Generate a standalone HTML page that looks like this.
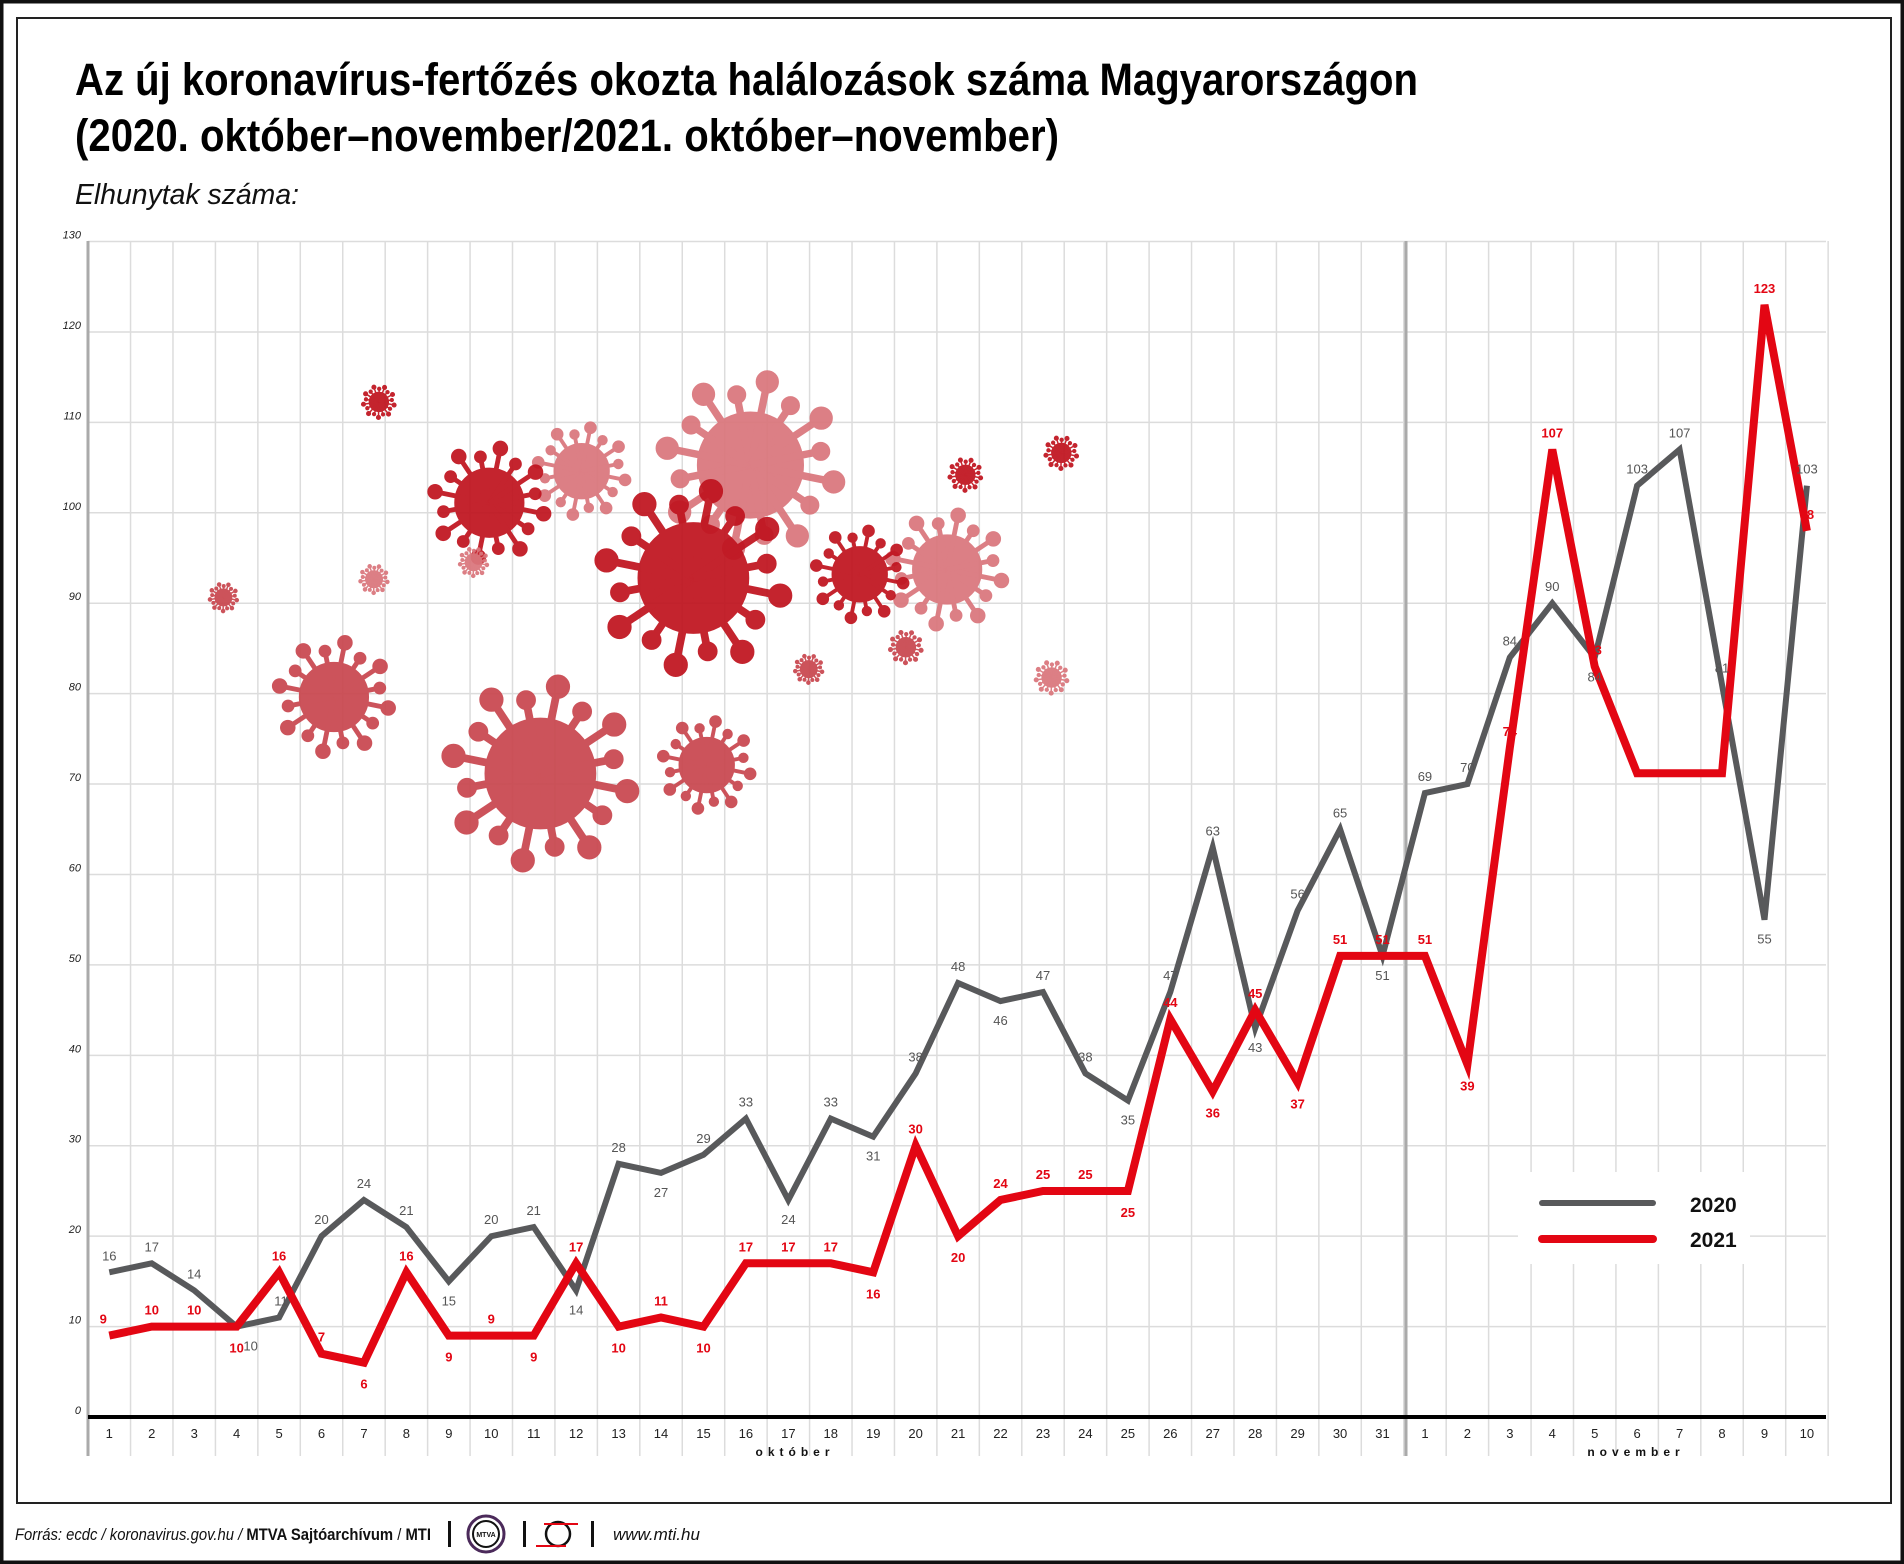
<!DOCTYPE html>
<html><head><meta charset="utf-8"><style>
html,body{margin:0;padding:0;background:#fff}
svg{display:block}
text{font-family:"Liberation Sans Narrow","Liberation Sans",sans-serif}
</style></head><body>
<svg id="s" width="1904" height="1564" viewBox="0 0 1904 1564" xmlns="http://www.w3.org/2000/svg">
<rect x="1.5" y="1.5" width="1901" height="1561" fill="#fff" stroke="#111" stroke-width="4"/>
<rect x="17" y="18" width="1874" height="1485" fill="none" stroke="#222" stroke-width="2"/>
<g id="grid"></g>
<g id="virus"></g>
<rect x="1518" y="1172" width="232" height="92" fill="#fff"/>
<g id="lines"></g>
<g id="lab20" font-size="13" fill="#555">
<text>16</text><text>17</text><text>14</text><text>10</text><text>11</text><text>20</text><text>24</text><text>21</text><text>15</text><text>20</text><text>21</text><text>14</text><text>28</text><text>27</text><text>29</text><text>33</text><text>24</text><text>33</text><text>31</text><text>38</text><text>48</text><text>46</text><text>47</text><text>38</text><text>35</text><text>47</text><text>63</text><text>43</text><text>56</text><text>65</text><text>51</text><text>69</text><text>70</text><text>84</text><text>90</text><text>84</text><text>103</text><text>107</text><text>81</text><text>55</text><text>103</text>
</g>
<g id="lab21" font-size="13" fill="#e30613" font-weight="bold">
<text>9</text><text>10</text><text>10</text><text>10</text><text>16</text><text>7</text><text>6</text><text>16</text><text>9</text><text>9</text><text>9</text><text>17</text><text>10</text><text>11</text><text>10</text><text>17</text><text>17</text><text>17</text><text>16</text><text>30</text><text>20</text><text>24</text><text>25</text><text>25</text><text>25</text><text>44</text><text>36</text><text>45</text><text>37</text><text>51</text><text>51</text><text>51</text><text>39</text><text>74</text><text>107</text><text>83</text><text></text><text></text><text></text><text>123</text><text>98</text>
</g>
<g id="ylab" font-size="11" font-style="italic" fill="#222" text-anchor="end">
<text>0</text><text>10</text><text>20</text><text>30</text><text>40</text><text>50</text><text>60</text><text>70</text><text>80</text><text>90</text><text>100</text><text>110</text><text>120</text><text>130</text>
</g>
<g id="xlab" font-size="13" fill="#222" text-anchor="middle">
<text>1</text><text>2</text><text>3</text><text>4</text><text>5</text><text>6</text><text>7</text><text>8</text><text>9</text><text>10</text><text>11</text><text>12</text><text>13</text><text>14</text><text>15</text><text>16</text><text>17</text><text>18</text><text>19</text><text>20</text><text>21</text><text>22</text><text>23</text><text>24</text><text>25</text><text>26</text><text>27</text><text>28</text><text>29</text><text>30</text><text>31</text><text>1</text><text>2</text><text>3</text><text>4</text><text>5</text><text>6</text><text>7</text><text>8</text><text>9</text><text>10</text>
</g>
<text x="795" y="1456" font-size="12" font-weight="bold" text-anchor="middle" letter-spacing="5" fill="#111">október</text>
<text x="1636" y="1456" font-size="12" font-weight="bold" text-anchor="middle" letter-spacing="5" fill="#111">november</text>
<line x1="1542" y1="1203" x2="1653" y2="1203" stroke="#58595b" stroke-width="6" stroke-linecap="round"/>
<line x1="1542" y1="1239" x2="1653" y2="1239" stroke="#e30613" stroke-width="8" stroke-linecap="round"/>
<text x="1690" y="1212" font-size="21" font-weight="bold" fill="#111">2020</text>
<text x="1690" y="1247" font-size="21" font-weight="bold" fill="#111">2021</text>
<text x="75" y="95" font-size="45" font-weight="bold" fill="#000" textLength="1343" lengthAdjust="spacingAndGlyphs">Az új koronavírus-fertőzés okozta halálozások száma Magyarországon</text>
<text x="75" y="151" font-size="45" font-weight="bold" fill="#000" textLength="984" lengthAdjust="spacingAndGlyphs">(2020. október–november/2021. október–november)</text>
<text x="75" y="204" font-size="29" font-style="italic" fill="#111" textLength="224" lengthAdjust="spacingAndGlyphs">Elhunytak száma:</text>
<text x="15" y="1540" font-size="17" fill="#111" textLength="416" lengthAdjust="spacingAndGlyphs"><tspan font-style="italic">Forrás: ecdc / koronavirus.gov.hu / </tspan><tspan font-weight="bold">MTVA Sajtóarchívum</tspan><tspan> / </tspan><tspan font-weight="bold">MTI</tspan></text>
<rect x="448" y="1521" width="3" height="26" fill="#111"/>
<circle cx="486" cy="1534" r="18" fill="none" stroke="#4b2a5a" stroke-width="3"/>
<circle cx="486" cy="1534" r="13" fill="none" stroke="#111" stroke-width="2"/>
<text x="486" y="1537" font-size="7" font-weight="bold" text-anchor="middle" fill="#111">MTVA</text>
<rect x="523" y="1521" width="3" height="26" fill="#111"/>
<circle cx="558" cy="1534" r="12" fill="none" stroke="#111" stroke-width="2.5"/>
<line x1="544" y1="1524" x2="578" y2="1524" stroke="#e30613" stroke-width="2"/>
<line x1="536" y1="1546" x2="566" y2="1546" stroke="#e30613" stroke-width="2"/>
<rect x="591" y="1521" width="3" height="26" fill="#111"/>
<text x="613" y="1540" font-size="17" font-style="italic" fill="#111">www.mti.hu</text>
</svg>
<script>
var NS="http://www.w3.org/2000/svg";
function el(p,t,a){var e=document.createElementNS(NS,t);for(var k in a)e.setAttribute(k,a[k]);p.appendChild(e);return e;}
function X(i){return 109.3+i*42.44;}
function Y(v){return 1417-v*9.042;}
var g=document.getElementById('grid');
for(var v=10;v<=130;v+=10)el(g,'line',{x1:88,x2:1826,y1:Y(v),y2:Y(v),stroke:'#dcdcdc','stroke-width':1.5});
for(var k=1;k<=41;k++){var x=88.1+k*42.44;el(g,'line',{x1:x,x2:x,y1:241,y2:1456,stroke:'#dcdcdc','stroke-width':1.5});}
el(g,'line',{x1:88,x2:88,y1:241,y2:1456,stroke:'#aaa','stroke-width':3});
el(g,'line',{x1:1406,x2:1406,y1:241,y2:1456,stroke:'#aaa','stroke-width':3});
el(g,'line',{x1:88,x2:1826,y1:1417,y2:1417,stroke:'#000','stroke-width':4});
var a20=[16,17,14,10,11,20,24,21,15,20,21,14,28,27,29,33,24,33,31,38,48,46,47,38,35,47,63,43,56,65,51,69,70,84,90,84,103,107,81,55,103];
var a21=[9,10,10,10,16,7,6,16,9,9,9,17,10,11,10,17,17,17,16,30,20,24,25,25,25,44,36,45,37,51,51,51,39,74,107,83,71.2,71.2,71.2,123,98];
var vg=document.getElementById('virus');
var D='#c0141f',M='#c9474f',P='#da767c';
function virus(cx,cy,r,c,n){
 var gg=el(vg,'g',{fill:c,stroke:c,opacity:0.93});
 el(gg,'circle',{cx:cx,cy:cy,r:r});
 n=n||16;
 for(var i=0;i<n;i++){var a=i/n*2*Math.PI+0.2;var L=r*(i%2?1.35:1.6);
  var x2=cx+Math.cos(a)*L,y2=cy+Math.sin(a)*L;
  el(gg,'line',{x1:cx,y1:cy,x2:x2,y2:y2,'stroke-width':Math.max(1.5,r*0.14)});
  el(gg,'circle',{cx:x2,cy:y2,r:Math.max(1.5,r*(i%2?0.17:0.21))});}
}
var S=1.2143;
[[618,383,46,P],[571,476,48,D],[479,388,24,P],[403,414,30,D],[445,637,48,M],[275,574,30,M],[582,630,24,M],[780,469,30,P],[708,473,24,D],
[184,492,7,M,18],[308,477,7,P,18],[312,331,8,D,18],[390,463,7,P,18],[666,551,7,M,18],[746,533,8,M,18],[795,391,8,D,18],[874,373,8,D,18],[866,558,8,P,18]]
.forEach(function(v){virus(v[0]*S,v[1]*S,v[2]*S*(v[4]?1:0.95),v[3],v[4]);});
var lg=document.getElementById('lines');
function pts(a){return a.map(function(v,i){return X(i).toFixed(1)+','+Y(v).toFixed(1);}).join(' ');}
el(lg,'polyline',{points:pts(a20),fill:'none',stroke:'#58595b','stroke-width':6,'stroke-linejoin':'miter'});
el(lg,'polyline',{points:pts(a21),fill:'none',stroke:'#e30613','stroke-width':8,'stroke-linejoin':'miter'});
function place(id,a,off,dx){
 var t=document.getElementById(id).getElementsByTagName('text');
 for(var i=0;i<a.length;i++){
  var below=false;
  if(i>0&&i<a.length-1){var p=a[i-1],n=a[i+1];below=(a[i]<p&&a[i]<=n)||(a[i]<=p&&a[i]<n);}
  t[i].setAttribute('x',X(i)+((dx&&dx[i])||0));t[i].setAttribute('text-anchor','middle');
  t[i].setAttribute('y',Y(a[i])+(below?off[1]:off[0]));
 }
}
place('lab20',a20,[-12,24],{3:14,4:2});
place('lab21',a21,[-12,26],{0:-6});
var yl=document.getElementById('ylab').getElementsByTagName('text');
for(var i=0;i<yl.length;i++){yl[i].setAttribute('x',81);yl[i].setAttribute('y',Y(i*10)-3);}
var xl=document.getElementById('xlab').getElementsByTagName('text');
for(var i=0;i<xl.length;i++){xl[i].setAttribute('x',X(i));xl[i].setAttribute('y',1438);}
</script>
</body></html>
